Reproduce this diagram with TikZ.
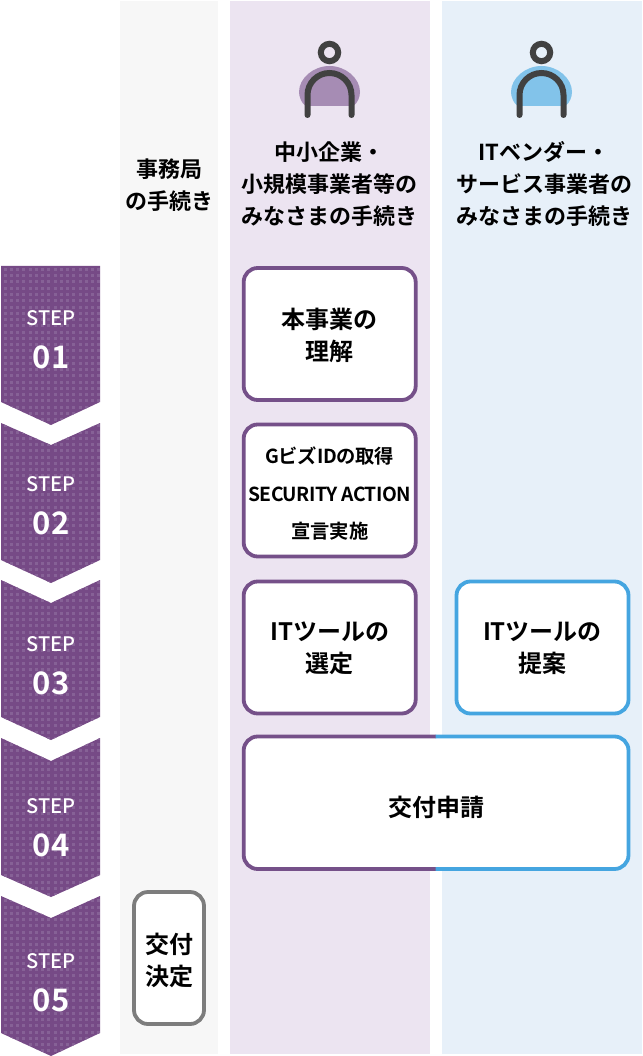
\documentclass[tikz,border=0pt]{standalone}
\usepackage{fontspec}
\setmainfont{Noto Sans CJK JP}[BoldFont={Noto Sans CJK JP Bold}]
\newfontfamily\stepfont{Noto Sans CJK JP Medium}
\usepackage{tikz}
\usetikzlibrary{positioning}
\definecolor{stepbase}{HTML}{764A86}
\definecolor{stepdot}{HTML}{866196}
\definecolor{userline}{HTML}{755089}
\definecolor{vendorline}{HTML}{45A5E0}
\definecolor{officeline}{HTML}{7D7D7D}
\definecolor{officeband}{HTML}{F7F7F7}
\definecolor{userband}{HTML}{ECE4F1}
\definecolor{vendorband}{HTML}{E7F0F9}
\definecolor{userblob}{HTML}{A68CB4}
\definecolor{vendorblob}{HTML}{82C3EA}
\definecolor{iconline}{HTML}{414141}
\tikzset{
  taskbox/.style={draw,fill=white,line width=3.8pt,rounded corners=14pt,outer sep=0pt,inner sep=0pt,
    minimum width=172pt,minimum height=132pt},
  tasktext/.style={align=center,font=\bfseries\fontsize{24}{32}\selectfont},
  heading/.style={align=center,font=\bfseries\fontsize{22}{32}\selectfont},
  steplabel/.style={text=white,font=\stepfont\fontsize{20}{22}\selectfont},
  stepnum/.style={text=white,font=\bfseries\fontsize{31}{34}\selectfont},
}
\newcommand{\personicon}[3]{
  \fill[#2] (#1-24,106) .. controls (#1-28,103) and (#1-30.5,97) .. (#1-30.5,92)
    .. controls (#1-30.5,78) and (#1-16,66) .. (#1,66)
    .. controls (#1+16,66) and (#1+30.5,78) .. (#1+30.5,92)
    .. controls (#1+30.5,97) and (#1+28,103) .. (#1+24,106) -- cycle;
  \draw[#3,line width=6pt] (#1,52.5) circle (8.7);
  \draw[#3,line width=6pt,line cap=round] (#1-22,115) -- (#1-22,95) arc (180:360:22) -- (#1+22,115);
}
\begin{document}
\begin{tikzpicture}[x=1pt,y=-1pt]
  \useasboundingbox (0,0) rectangle (642,1056);
  \fill[officeband] (120,1) rectangle (218,1054);
  \fill[userband] (230,1) rectangle (430,1054);
  \fill[vendorband] (442,1) rectangle (642,1054);

  \personicon{329.5}{userblob}{iconline}
  \personicon{541.5}{vendorblob}{iconline}

  \begin{scope}
    \clip (1,266) -- (100,266) -- (100,402) -- (51,425) -- (1,402) -- cycle
      (1,423) -- (51,445) -- (100,423) -- (100,560) -- (51,583) -- (1,560) -- cycle
      (1,580) -- (51,603) -- (100,580) -- (100,717) -- (51,740) -- (1,717) -- cycle
      (1,738) -- (51,761) -- (100,738) -- (100,875) -- (51,897) -- (1,875) -- cycle
      (1,896) -- (51,918) -- (100,896) -- (100,1033) -- (51,1056) -- (1,1033) -- cycle;
    \fill[stepbase] (0,260) rectangle (102,1056);
    \foreach \i in {0,...,15}
      \foreach \j in {0,...,128}
        \fill[stepdot] (3.5+\i*6.25,268+\j*6.25) rectangle +(3,3);
  \end{scope}

  \foreach \n/\a/\b in {01/318/357,02/484/523,03/644/683,04/806/845,05/961/1000}{
    \node[steplabel] (step\n) at (51,\a) {STEP};
    \node[stepnum] (num\n) at (51,\b) {\n};
  }

  \node[heading] (office) at (169,185) {事務局\\の手続き};
  \node[heading] (user) at (329.5,184) {中小企業・\\小規模事業者等の\\みなさまの手続き};
  \node[heading] (vendor) at (544,184) {ITベンダー・\\サービス事業者の\\みなさまの手続き};

  \node[taskbox,draw=userline] (understand) at (329.7,334) {};
  \node[tasktext] (understandtext) at (329.7,335) {本事業の\\理解};
  \node[taskbox,draw=userline] (gbiz) at (329.7,490.5) {};
  \node[tasktext,font=\bfseries\fontsize{19.3}{37.5}\selectfont] (gbiztext) at (329.7,493.8)
    {\addfontfeature{LetterSpace=-1}GビズIDの取得\\\addfontfeature{LetterSpace=-2.8}SECURITY ACTION\\宣言実施};
  \node[taskbox,draw=userline] (select) at (329.7,647.5) {};
  \node[tasktext] (selecttext) at (329.7,648.5) {ITツールの\\選定};
  \node[taskbox,draw=vendorline] (propose) at (542.5,647.5) {};
  \node[tasktext] (proposetext) at (542.5,648.5) {ITツールの\\提案};

  \fill[white,rounded corners=14pt] (243.7,736.5) rectangle (628.5,869);
  \draw[userline,line width=3.8pt,rounded corners=14pt] (436,736.5) -- (243.7,736.5) -- (243.7,869) -- (436,869);
  \draw[vendorline,line width=3.8pt,rounded corners=14pt] (435.7,736.5) -- (628.5,736.5) -- (628.5,869) -- (435.7,869);
  \node[tasktext] (apply) at (436,807) {交付申請};

  \node[taskbox,draw=officeline,minimum width=70pt] (decide) at (169,958) {};
  \node[tasktext] (decidetext) at (169,960) {交付\\決定};
\end{tikzpicture}
\end{document}
